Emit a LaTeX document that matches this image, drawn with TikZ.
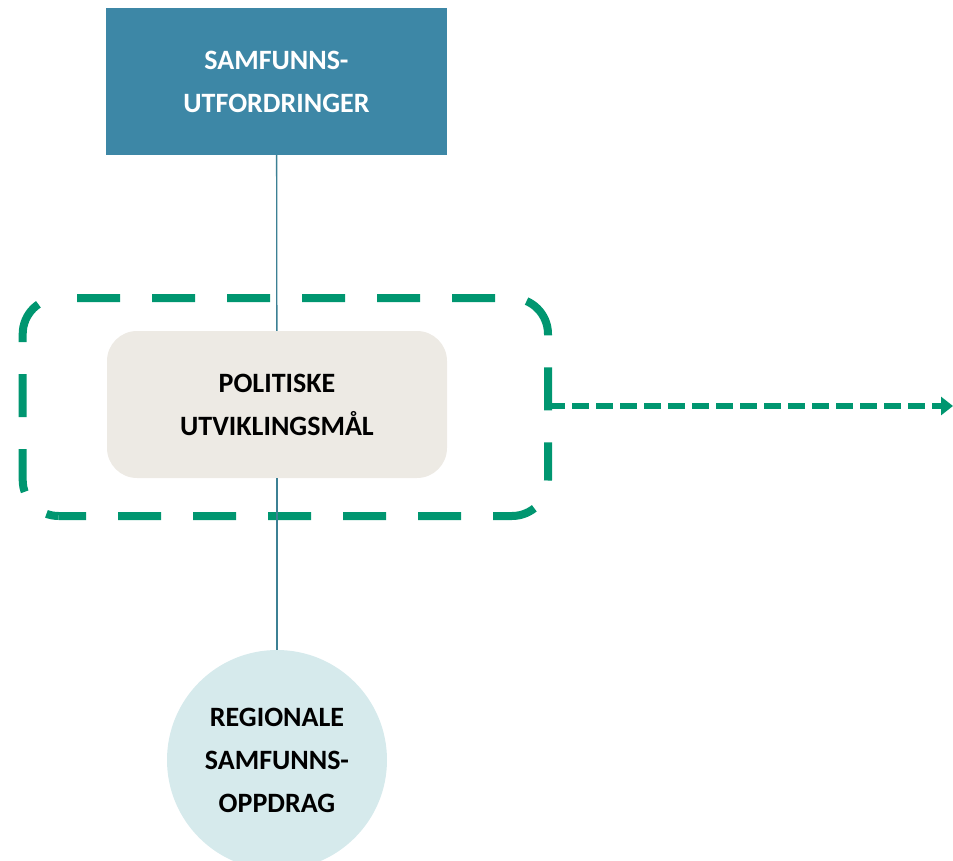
\documentclass[tikz,border=0pt]{standalone}
\usepackage{fontspec}
\setmainfont{Carlito}
\usetikzlibrary{arrows.meta}
\definecolor{topblue}{RGB}{61,135,166}
\definecolor{framegreen}{RGB}{0,150,112}
\definecolor{midfill}{RGB}{237,234,228}
\definecolor{circfill}{RGB}{214,234,236}
\definecolor{linkcol}{RGB}{60,128,148}
\tikzset{
  lbl/.style={font=\fontsize{28}{43}\selectfont\bfseries, align=center, inner sep=0pt},
  topbox/.style={lbl, fill=topblue, text=white, minimum width=341pt, minimum height=147pt},
  midbox/.style={lbl, fill=midfill, text=black, rounded corners=30pt, minimum width=340pt, minimum height=147pt},
  circbox/.style={lbl, circle, fill=circfill, text=black, minimum size=220pt},
  frameline/.style={draw=framegreen, line width=8pt, dash pattern=on 43pt off 32pt},
  arrowline/.style={draw=framegreen, line width=5.5pt, dash pattern=on 17pt off 7pt, -{Triangle[length=12pt,width=18pt]}},
  link/.style={draw=linkcol, line width=1.3pt}
}
\begin{document}
\begin{tikzpicture}[x=1pt,y=-1pt]
\useasboundingbox (0,0) rectangle (953,861);
\clip (0,0) rectangle (953,861);
% dashed frame (three runs so the dashes fall as in the original)
\draw[frameline, dash phase=56.7pt] (58.7,298) -- (512,298) arc[start angle=-90, end angle=0, radius=36]
  -- (548,480);
\draw[frameline, dash phase=42.5pt] (548,480) arc[start angle=0, end angle=90, radius=36] -- (58.7,516);
\draw[frameline, dash phase=30.5pt] (58.7,516) arc[start angle=90, end angle=180, radius=36]
  -- (22.7,334) arc[start angle=180, end angle=270, radius=36];
\node[topbox] (top) at (276.5,81.5) {SAMFUNNS-\\UTFORDRINGER};
\node[midbox] (mid) at (277,404.5) {POLITISKE\\UTVIKLINGSMÅL};
\node[circbox] (circ) at (277,760) {REGIONALE\\SAMFUNNS-\\OPPDRAG};
\draw[link] (top) -- (mid);
\draw[link] (mid) -- (circ);
\coordinate (fe) at (548,406);
\coordinate (tip) at (953,406);
\draw[arrowline] (fe) -- (tip);
\end{tikzpicture}
\end{document}
